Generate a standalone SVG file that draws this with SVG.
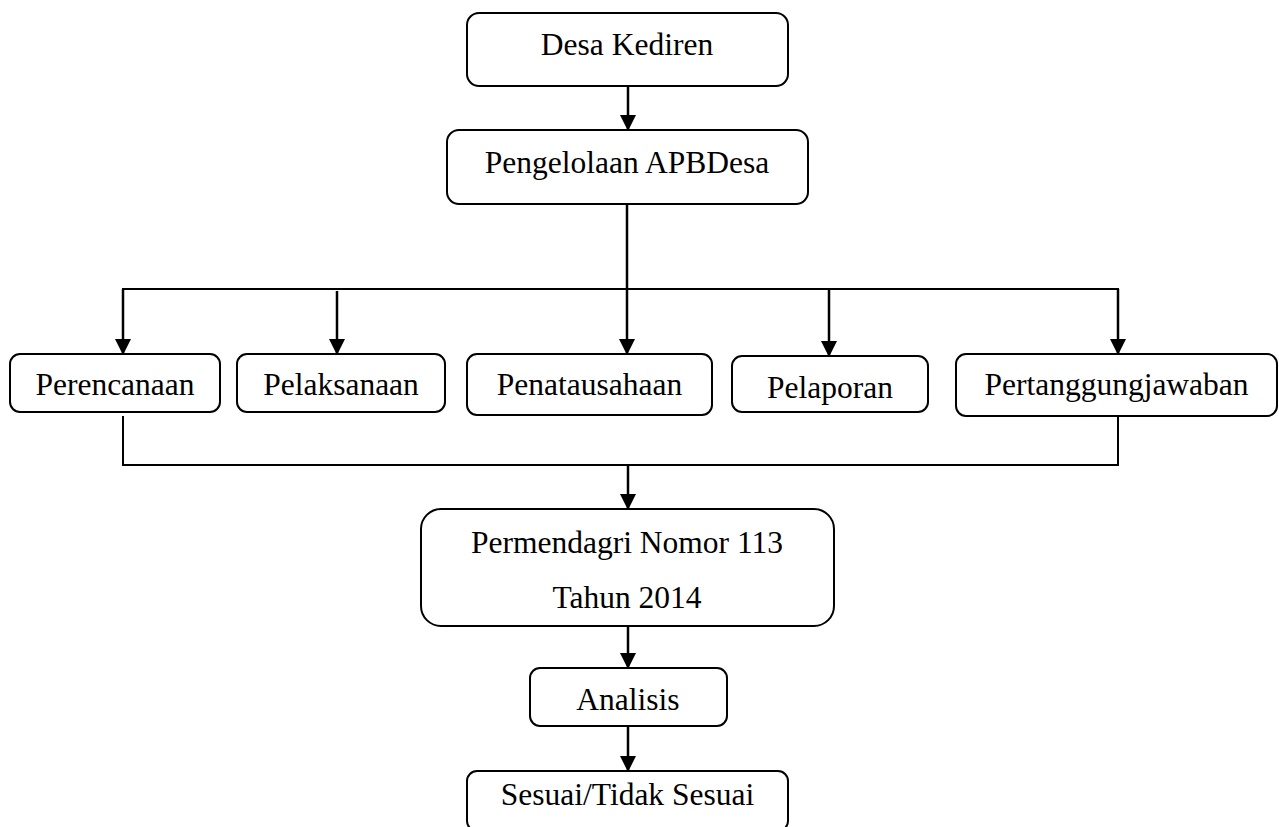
<svg xmlns="http://www.w3.org/2000/svg" width="1279" height="827" viewBox="0 0 1279 827">
<style>
.box{fill:#fff;stroke:#000;stroke-width:2}
.t{font-family:"Liberation Serif","Times New Roman",serif;font-size:31.5px;fill:#000;text-anchor:middle}
.c{fill:none;stroke:#000;stroke-width:2.5}
.h{fill:none;stroke:#000;stroke-width:2}
</style>
<defs>
<marker id="ah" markerUnits="userSpaceOnUse" markerWidth="18" markerHeight="18" viewBox="0 0 18 18" refX="16" refY="9" orient="auto">
<path d="M0,1 L16,9 L0,17 Z" fill="#000"/>
</marker>
</defs>
<rect width="1279" height="827" fill="#fff"/>
<g id="connectors">
<line class="c" x1="628" y1="86" x2="628" y2="131" marker-end="url(#ah)"/>
<line class="c" x1="627" y1="204" x2="627" y2="355" marker-end="url(#ah)"/>
<polyline class="h" points="123,355 123,289 1118,289 1118,355"/>
<line class="c" x1="123" y1="289" x2="123" y2="355" marker-end="url(#ah)"/>
<line class="c" x1="337" y1="291" x2="337" y2="355" marker-end="url(#ah)"/>
<line class="c" x1="829" y1="289" x2="829" y2="357" marker-end="url(#ah)"/>
<line class="c" x1="1118" y1="289" x2="1118" y2="355" marker-end="url(#ah)"/>
<polyline class="h" points="123,416 123,465 1118,465 1118,416"/>
<line class="c" x1="628" y1="465" x2="628" y2="510" marker-end="url(#ah)"/>
<line class="c" x1="628" y1="626" x2="628" y2="669" marker-end="url(#ah)"/>
<line class="c" x1="628" y1="726" x2="628" y2="772" marker-end="url(#ah)"/>
</g>
<g id="desa-kediren">
<rect class="box" x="467" y="13" width="321" height="73" rx="12"/>
<text class="t" x="627" y="55">Desa Kediren</text>
</g>
<g id="pengelolaan">
<rect class="box" x="447" y="130" width="361" height="74" rx="12"/>
<text class="t" x="627" y="173">Pengelolaan APBDesa</text>
</g>
<g id="perencanaan">
<rect class="box" x="10" y="354" width="210" height="58" rx="10"/>
<text class="t" x="115" y="395">Perencanaan</text>
</g>
<g id="pelaksanaan">
<rect class="box" x="237" y="354" width="208" height="58" rx="10"/>
<text class="t" x="341" y="395">Pelaksanaan</text>
</g>
<g id="penatausahaan">
<rect class="box" x="467" y="354" width="245" height="61" rx="10"/>
<text class="t" x="589.5" y="395">Penatausahaan</text>
</g>
<g id="pelaporan">
<rect class="box" x="732" y="356" width="196" height="56" rx="10"/>
<text class="t" x="830" y="398">Pelaporan</text>
</g>
<g id="pertanggungjawaban">
<rect class="box" x="956" y="354" width="321" height="62" rx="10"/>
<text class="t" x="1116.5" y="395">Pertanggungjawaban</text>
</g>
<g id="permendagri">
<rect class="box" x="421" y="509" width="413" height="117" rx="20"/>
<text class="t" x="627" y="553">Permendagri Nomor 113</text>
<text class="t" x="627" y="608">Tahun 2014</text>
</g>
<g id="analisis">
<rect class="box" x="530" y="668" width="197" height="58" rx="10"/>
<text class="t" x="628" y="710">Analisis</text>
</g>
<g id="sesuai">
<rect class="box" x="467" y="771" width="321" height="60" rx="10"/>
<text class="t" x="627.5" y="805">Sesuai/Tidak Sesuai</text>
</g>
</svg>
